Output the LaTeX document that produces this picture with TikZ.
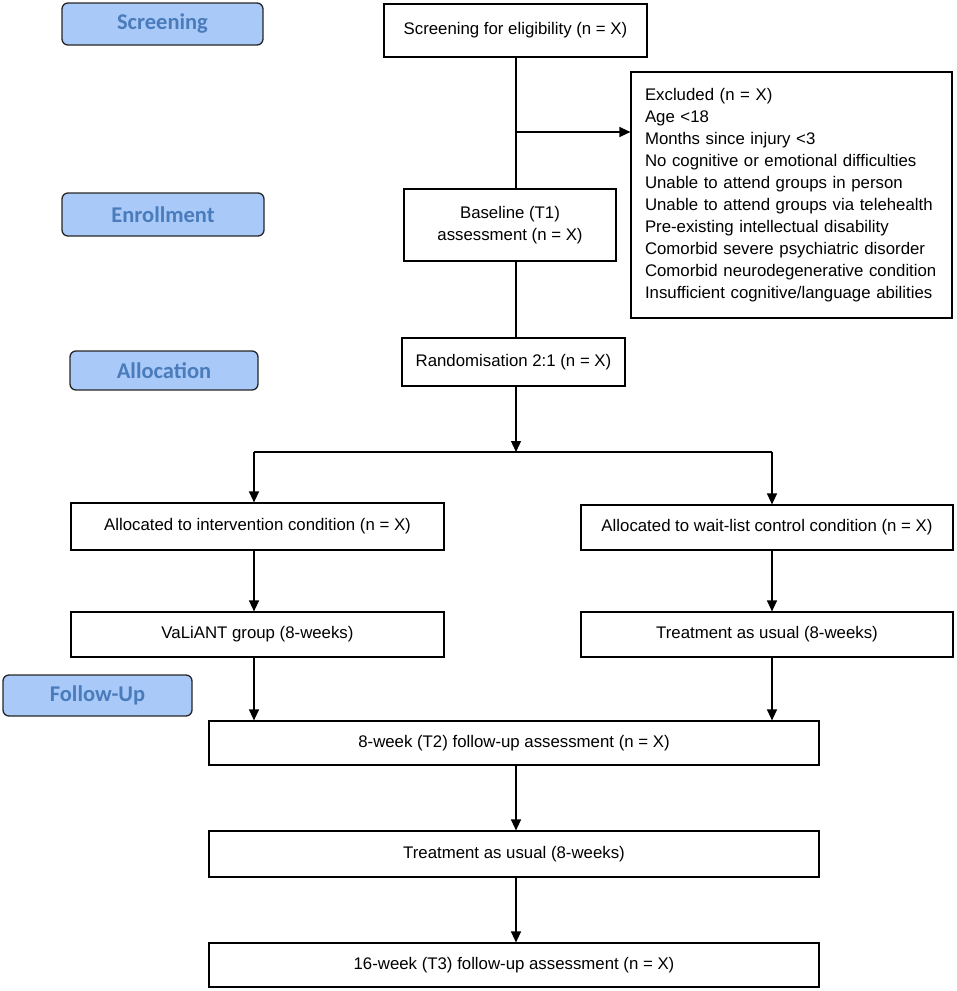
\documentclass[tikz,border=0pt]{standalone}
\usepackage{fontspec}
\setmainfont{Liberation Sans}
\newfontfamily\stagefont{Carlito}
\usetikzlibrary{arrows.meta}
\definecolor{stagefill}{RGB}{169,201,249}
\definecolor{stagetext}{RGB}{74,124,187}
\begin{document}
\begin{tikzpicture}[x=1pt,y=-1pt,
  box/.style={draw, line width=1.2pt, inner sep=0pt, align=center,
    font=\fontsize{16.8}{22}\selectfont},
  stage/.style={draw=black!85, line width=1.3pt, fill=stagefill, rounded corners=6pt,
    inner sep=0pt, font=\stagefont\bfseries\fontsize{22.5}{24}\selectfont, text=stagetext},
  conn/.style={line width=1.4pt},
  arr/.style={conn, -{Triangle[length=11pt,width=10pt]}}]
\useasboundingbox (0,0) rectangle (957,991);
% stage labels
\node[stage, minimum width=201pt, minimum height=42pt] (s1) at (162.5,24) {Screening};
\node[stage, minimum width=202pt, minimum height=43pt] (s2) at (163,214.5) {Enrollment};
\node[stage, minimum width=188pt, minimum height=39pt] (s3) at (164,370.5) {Allocation};
\node[stage, minimum width=189pt, minimum height=41pt] (s4) at (97.5,695.5) {Follow-Up};
% boxes
\node[box, minimum width=263pt, minimum height=53pt] (scr) at (515.5,30.5) {Screening for eligibility (n = X)};
\node[box, minimum height=246pt, text width=293pt, inner xsep=14pt, align=left] (exc) at (791.5,195)
  {Excluded (n = X)\\Age <18\\Months since injury <3\\No cognitive or emotional difficulties\\Unable to attend groups in person\\Unable to attend groups via telehealth\\Pre-existing intellectual disability\\Comorbid severe psychiatric disorder\\Comorbid neurodegenerative condition\\Insufficient cognitive/language abilities};
\node[box, minimum width=212pt, minimum height=72pt] (base) at (510,225) {Baseline (T1)\\assessment (n = X)};
\node[box, minimum width=223pt, minimum height=48pt] (rand) at (513.5,362) {Randomisation 2:1 (n = X)};
\node[box, minimum width=373pt, minimum height=47pt] (al1) at (257.5,526.5) {Allocated to intervention condition (n = X)};
\node[box, minimum width=372pt, minimum height=45pt] (al2) at (767,527.5) {Allocated to wait-list control condition (n = X)};
\node[box, minimum width=373pt, minimum height=45pt] (val) at (257.5,634.5) {VaLiANT group (8-weeks)};
\node[box, minimum width=372pt, minimum height=45pt] (tau1) at (767,634.5) {Treatment as usual (8-weeks)};
\node[box, minimum width=610pt, minimum height=44pt] (t2) at (514,743) {8-week (T2) follow-up assessment (n = X)};
\node[box, minimum width=610pt, minimum height=46pt] (tau2) at (514,854) {Treatment as usual (8-weeks)};
\node[box, minimum width=610pt, minimum height=44pt] (t3) at (514,965) {16-week (T3) follow-up assessment (n = X)};
% connectors
\coordinate (M) at (516,0);
\coordinate (j1) at (516,132);
\coordinate (split) at (516,452);
\coordinate (L) at (254,452);
\coordinate (R) at (772,452);
\draw[conn] (M |- scr.south) -- (M |- base.north);
\draw[arr] (j1) -- (j1 -| exc.west);
\draw[conn] (M |- base.south) -- (M |- rand.north);
\draw[arr] (M |- rand.south) -- (split);
\draw[conn] (L) -- (R);
\draw[arr] (L) -- (L |- al1.north);
\draw[arr] (R) -- (R |- al2.north);
\draw[arr] (L |- al1.south) -- (L |- val.north);
\draw[arr] (R |- al2.south) -- (R |- tau1.north);
\draw[arr] (L |- val.south) -- (L |- t2.north);
\draw[arr] (R |- tau1.south) -- (R |- t2.north);
\draw[arr] (M |- t2.south) -- (M |- tau2.north);
\draw[arr] (M |- tau2.south) -- (M |- t3.north);
\end{tikzpicture}
\end{document}
